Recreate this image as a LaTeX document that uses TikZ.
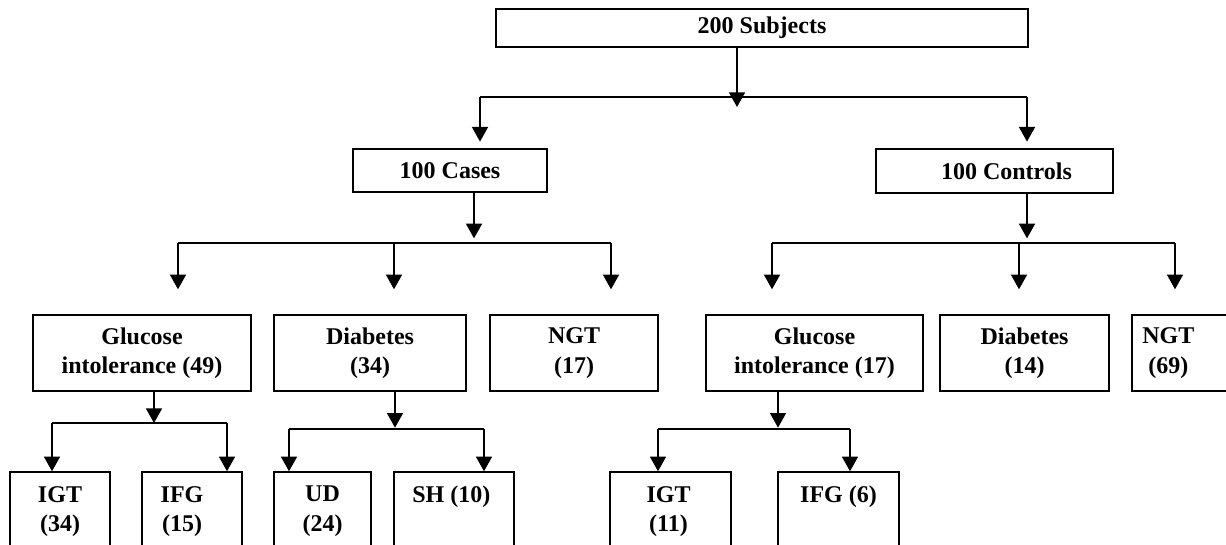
\documentclass[tikz,border=0pt]{standalone}
\usepackage{fontspec}
\setmainfont{Liberation Serif}
\usetikzlibrary{arrows.meta}
\begin{document}
\begin{tikzpicture}[x=0.75pt,y=-0.75pt,
  box/.style={draw, line width=1.1pt, inner sep=0pt, align=center, font=\bfseries\fontsize{18}{22}\selectfont},
  lbl/.style={inner sep=0pt, align=center, font=\bfseries\fontsize{18}{22}\selectfont},
  conn/.style={line width=1.2pt},
  arr/.style={line width=1.2pt, -{Triangle[width=12pt,length=11pt]}},
]
\useasboundingbox (0,0) rectangle (1226,544);
\clip (0,0) rectangle (1226,544);

% level 0
\node[box, line width=1.6pt, minimum width=399pt, minimum height=28.5pt] (subj) at (762,28) {200 Subjects};
% level 1
\node[box, minimum width=145.5pt, minimum height=32.25pt] (cases) at (450,170.5) {100 Cases};
\node[box, minimum width=177.75pt, minimum height=33pt] (ctrl) at (994.5,171) {\hspace*{18pt}100 Controls};
% level 2
\node[box, minimum width=163.5pt, minimum height=57pt] (gi1) at (142,353) {Glucose\\intolerance (49)};
\node[box, minimum width=144pt, minimum height=57pt] (dm1) at (370,353) {Diabetes\\(34)};
\node[box, minimum width=126pt, minimum height=57pt] (ngt1) at (574,353) {NGT\\(17)};
\node[box, minimum width=162.75pt, minimum height=57pt] (gi2) at (814.5,353) {Glucose\\intolerance (17)};
\node[box, minimum width=126.75pt, minimum height=57pt] (dm2) at (1024.5,353) {Diabetes\\(14)};
\node[box, minimum width=81pt, minimum height=57pt] (ngt2) at (1186,353) {};
\node[lbl, anchor=west] (ngt2t) at (1142,353) {NGT\\(69)};
% level 3
\node[box, minimum width=75pt, minimum height=66pt] (igt1) at (60,516) {};
\node[lbl, anchor=north] (igt1t) at ([yshift=-11pt]igt1.north) {IGT\\(34)};
\node[box, minimum width=75pt, minimum height=66pt] (ifg1) at (192,516) {};
\node[lbl, anchor=north] (ifg1t) at ([xshift=-7.5pt,yshift=-11pt]ifg1.north) {IFG\\(15)};
\node[box, minimum width=72.75pt, minimum height=66pt] (ud) at (322.5,516) {};
\node[lbl, anchor=north] (udt) at ([yshift=-11pt]ud.north) {UD\\(24)};
\node[box, minimum width=90pt, minimum height=66pt] (sh) at (454,516) {};
\node[lbl, anchor=north] (sht) at ([xshift=-2pt,yshift=-11pt]sh.north) {SH (10)};
\node[box, minimum width=90.75pt, minimum height=66pt] (igt2) at (670.5,516) {};
\node[lbl, anchor=north] (igt2t) at ([xshift=-1.5pt,yshift=-11pt]igt2.north) {IGT\\(11)};
\node[box, minimum width=90.75pt, minimum height=66pt] (ifg2) at (838.5,516) {};
\node[lbl, anchor=north] (ifg2t) at ([yshift=-11pt]ifg2.north) {IFG (6)};

% connectors: subjects
\coordinate (j0) at (737,97);
\coordinate (t0) at (737,107);
\coordinate (h0l) at (480,97);
\coordinate (h0r) at (1027,97);
\draw[arr] (subj.south -| j0) -- (t0);
\draw[conn] (h0l) -- (h0r);
\draw[arr, shorten >=5pt] (h0l) -- (h0l |- cases.north);
\draw[arr, shorten >=5pt] (h0r) -- (h0r |- ctrl.north);

% cases
\coordinate (j1) at (474,243);
\coordinate (h1a) at (178,243);
\coordinate (h1b) at (394,243);
\coordinate (h1c) at (611,243);
\draw[arr, shorten >=3.5pt] (cases.south -| j1) -- (j1);
\draw[conn] (h1a) -- (h1c);
\draw[arr, shorten >=18.75pt] (h1a) -- (h1a |- gi1.north);
\draw[arr, shorten >=18.75pt] (h1b) -- (h1b |- dm1.north);
\draw[arr, shorten >=18.75pt] (h1c) -- (h1c |- ngt1.north);

% controls
\coordinate (j2) at (1027,243);
\coordinate (h2a) at (772,243);
\coordinate (h2b) at (1019,243);
\coordinate (h2c) at (1175,243);
\draw[arr, shorten >=3.5pt] (ctrl.south -| j2) -- (j2);
\draw[conn] (h2a) -- (h2c);
\draw[arr, shorten >=18.75pt] (h2a) -- (h2a |- gi2.north);
\draw[arr, shorten >=18.75pt] (h2b) -- (h2b |- dm2.north);
\draw[arr, shorten >=18.75pt] (h2c) -- (h2c |- ngt2.north);

% glucose intolerance (cases)
\coordinate (j3) at (154,423);
\coordinate (h3a) at (52,423);
\coordinate (h3b) at (227,423);
\draw[arr] (gi1.south -| j3) -- (j3);
\draw[conn] (h3a) -- (h3b);
\draw[arr] (h3a) -- (h3a |- igt1.north);
\draw[arr] (h3b) -- (h3b |- ifg1.north);

% diabetes (cases)
\coordinate (j4) at (395,429);
\coordinate (h4a) at (289,429);
\coordinate (h4b) at (484,429);
\draw[arr, shorten >=1pt] (dm1.south -| j4) -- (j4);
\draw[conn] (h4a) -- (h4b);
\draw[arr] (h4a) -- (h4a |- ud.north);
\draw[arr] (h4b) -- (h4b |- sh.north);

% glucose intolerance (controls)
\coordinate (j5) at (778,429);
\coordinate (h5a) at (658,429);
\coordinate (h5b) at (850,429);
\draw[arr, shorten >=1pt] (gi2.south -| j5) -- (j5);
\draw[conn] (h5a) -- (h5b);
\draw[arr] (h5a) -- (h5a |- igt2.north);
\draw[arr] (h5b) -- (h5b |- ifg2.north);
\end{tikzpicture}
\end{document}
